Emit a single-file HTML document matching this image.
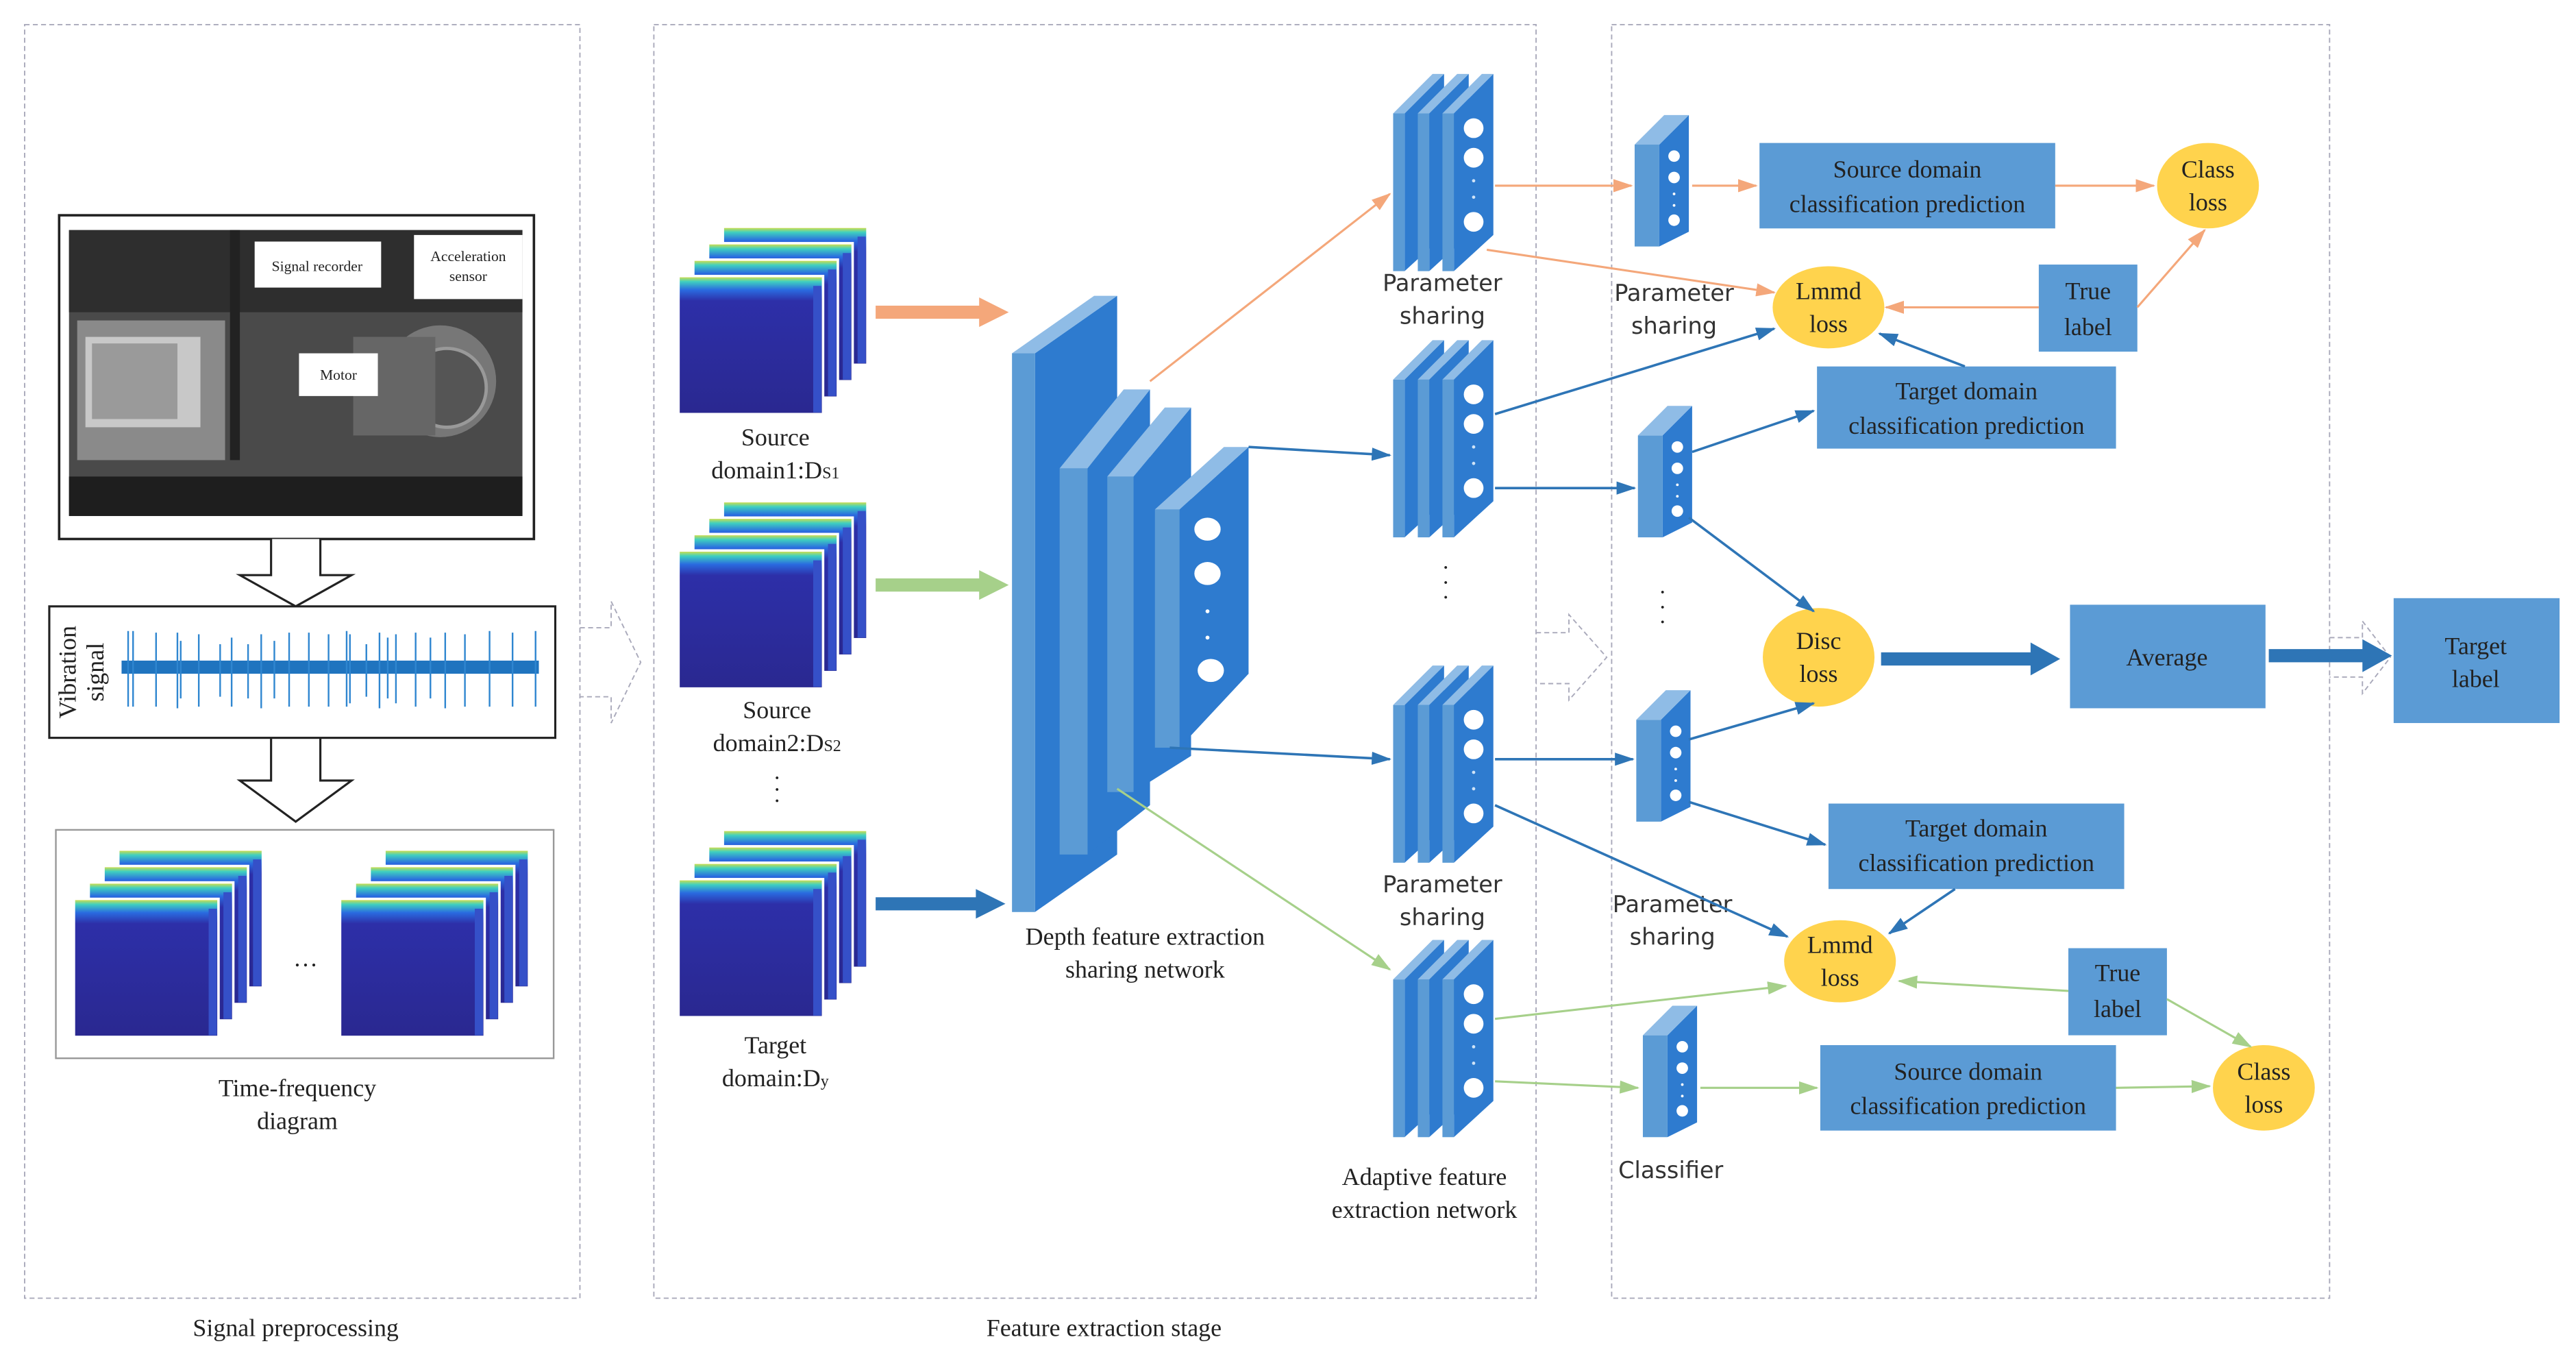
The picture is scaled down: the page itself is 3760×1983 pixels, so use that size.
<!DOCTYPE html>
<html><head><meta charset="utf-8"><style>
html,body{margin:0;padding:0;background:#fff;}
svg{display:block;}
.s{font-family:"Liberation Serif",serif;fill:#222;}
.a{font-family:"DejaVu Sans","Liberation Sans",sans-serif;fill:#333;}
</style></head><body>
<svg width="3760" height="1983" viewBox="0 0 1568 827" preserveAspectRatio="none" xmlns="http://www.w3.org/2000/svg">
<defs>
<linearGradient id="sp" x1="0" y1="0" x2="0" y2="1">
<stop offset="0" stop-color="#f2e030"/><stop offset="0.04" stop-color="#3fd0c0"/><stop offset="0.1" stop-color="#2a6be0"/><stop offset="0.18" stop-color="#2d2fa8"/><stop offset="1" stop-color="#2a2890"/>
</linearGradient>
<marker id="mo" markerWidth="12" markerHeight="10" refX="11" refY="5" orient="auto" markerUnits="userSpaceOnUse"><path d="M0,1 L12,5 L0,9 z" fill="#f4a77a"/></marker>
<marker id="mb" markerWidth="12" markerHeight="10" refX="11" refY="5" orient="auto" markerUnits="userSpaceOnUse"><path d="M0,1 L12,5 L0,9 z" fill="#2e75b6"/></marker>
<marker id="mg" markerWidth="12" markerHeight="10" refX="11" refY="5" orient="auto" markerUnits="userSpaceOnUse"><path d="M0,1 L12,5 L0,9 z" fill="#a6d08a"/></marker>
<g id="frame"><rect x="0" y="0" width="88" height="84" fill="url(#sp)" stroke="#fff" stroke-width="1.5"/><rect x="82" y="6" width="5" height="77" fill="#3550c8"/></g>
<g id="spec">
<use href="#frame" x="27" y="0"/><use href="#frame" x="18" y="10"/><use href="#frame" x="9" y="20"/><use href="#frame" x="0" y="30"/>
</g>
<g id="slab">
<polygon points="7,24 31,0 31,98 7,120" fill="#2e7bcf"/>
<rect x="0" y="24" width="7" height="96" fill="#5b9bd5"/>
<polygon points="0,24 24,0 31,0 7,24" fill="#8fbce6"/>
</g>
<g id="stack">
<use href="#slab" x="0" y="0"/><use href="#slab" x="15" y="0"/><use href="#slab" x="30" y="0"/>
<circle cx="49" cy="33" r="6" fill="#fff"/><circle cx="49" cy="51" r="6" fill="#fff"/>
<circle cx="49" cy="65" r="1" fill="#cfe3f7"/><circle cx="49" cy="75" r="1" fill="#cfe3f7"/>
<circle cx="49" cy="90" r="6" fill="#fff"/>
</g>
<g id="cls">
<polygon points="15,18 33,0 33,71 15,80" fill="#2e7bcf"/>
<rect x="0" y="18" width="15" height="62" fill="#5b9bd5"/>
<polygon points="0,18 18,0 33,0 15,18" fill="#8fbce6"/>
<circle cx="24" cy="25" r="3.5" fill="#fff"/><circle cx="24" cy="38" r="3.5" fill="#fff"/>
<circle cx="24" cy="48" r="0.8" fill="#fff"/><circle cx="24" cy="55" r="0.8" fill="#fff"/>
<circle cx="24" cy="64" r="3.5" fill="#fff"/>
</g>
</defs>

<g fill="none" stroke="#aab" stroke-width="0.8" stroke-dasharray="3,2">
<rect x="15" y="15" width="338" height="775"/>
<rect x="398" y="15" width="537" height="775"/>
<rect x="981" y="15" width="437" height="775"/>
<path d="M353,382 H372 V366 L390,403 L372,440 V424 H353"/>
<path d="M935,385 H955 V374 L978,400 L955,426 V416 H935"/>
<path d="M1418,388 H1438 V378 L1455,400 L1438,422 V412 H1418"/>
</g>
<text class="s" x="180" y="813" font-size="15" text-anchor="middle">Signal preprocessing</text>
<text class="s" x="672" y="813" font-size="15" text-anchor="middle">Feature extraction stage</text>

<rect x="36" y="131" width="289" height="197" fill="#fff" stroke="#222" stroke-width="1.5"/>
<rect x="42" y="140" width="276" height="174" fill="#4a4a4a"/>
<rect x="42" y="140" width="276" height="50" fill="#2e2e2e"/>
<rect x="47" y="195" width="90" height="85" fill="#8a8a8a"/>
<rect x="52" y="205" width="70" height="55" fill="#c8c8c8"/>
<rect x="56" y="209" width="52" height="46" fill="#9a9a9a"/>
<rect x="42" y="290" width="276" height="24" fill="#1e1e1e"/>
<rect x="140" y="140" width="6" height="140" fill="#222"/>
<circle cx="268" cy="232" r="34" fill="#777"/><circle cx="272" cy="236" r="24" fill="#555" stroke="#999" stroke-width="2"/>
<rect x="215" y="205" width="50" height="60" fill="#666"/>
<rect x="155" y="147" width="77" height="28" fill="#fff"/>
<text class="s" x="193" y="165" font-size="9" text-anchor="middle">Signal recorder</text>
<rect x="252" y="143" width="66" height="39" fill="#fff"/>
<text class="s" x="285" y="159" font-size="9" text-anchor="middle">Acceleration</text>
<text class="s" x="285" y="171" font-size="9" text-anchor="middle">sensor</text>
<rect x="182" y="215" width="48" height="26" fill="#fff"/>
<text class="s" x="206" y="231" font-size="9" text-anchor="middle">Motor</text>

<g fill="#fff" stroke="#222" stroke-width="1.3">
<path d="M165,328 V350 H146 L180,369 L214,350 H195 V328"/>
<path d="M165,449 V475 H146 L180,500 L214,475 H195 V449"/>
</g>

<rect x="30" y="369" width="308" height="80" fill="#fff" stroke="#222" stroke-width="1.3"/>
<text class="s" font-size="15" transform="translate(46,409) rotate(-90)" text-anchor="middle">Vibration</text>
<text class="s" font-size="15" transform="translate(63,409) rotate(-90)" text-anchor="middle">signal</text>
<rect x="74" y="402" width="254" height="8" fill="#1f74bf"/>
<g stroke="#2f86d0" stroke-width="1">
<path d="M78,384V430 M81,384V430 M95,385V430 M108,385V431 M110,390V425 M121,386V430 M134,392V424 M141,388V430 M151,392V425 M159,386V431 M167,390V425 M176,385V430 M188,385V430 M200,386V430 M211,384V430 M213,386V428 M223,392V424 M231,385V431 M236,388V425 M241,386V428 M253,385V430 M262,388V425 M271,385V431 M283,386V430 M298,384V430 M312,385V430 M326,384V430"/>
</g>

<rect x="34" y="505" width="303" height="139" fill="#fff" stroke="#999" stroke-width="1"/>
<use href="#spec" transform="translate(45,517)"/>
<use href="#spec" transform="translate(207,517)"/>
<text class="s" x="186" y="588" font-size="15" text-anchor="middle">…</text>
<text class="s" x="181" y="667" font-size="15" text-anchor="middle">Time-frequency</text>
<text class="s" x="181" y="687" font-size="15" text-anchor="middle">diagram</text>

<use href="#spec" transform="translate(413,138)"/>
<text class="s" x="472" y="271" font-size="15" text-anchor="middle">Source</text>
<text class="s" x="472" y="291" font-size="15" text-anchor="middle">domain1:D<tspan font-size="10">S1</tspan></text>
<use href="#spec" transform="translate(413,305)"/>
<text class="s" x="473" y="437" font-size="15" text-anchor="middle">Source</text>
<text class="s" x="473" y="457" font-size="15" text-anchor="middle">domain2:D<tspan font-size="10">S2</tspan></text>
<text class="s" x="473" y="478" font-size="14" text-anchor="middle">·</text>
<text class="s" x="473" y="485" font-size="14" text-anchor="middle">·</text>
<text class="s" x="473" y="492" font-size="14" text-anchor="middle">·</text>
<use href="#spec" transform="translate(413,505)"/>
<text class="s" x="472" y="641" font-size="15" text-anchor="middle">Target</text>
<text class="s" x="472" y="661" font-size="15" text-anchor="middle">domain:D<tspan font-size="10">y</tspan></text>

<path d="M533,186 H596 V181 L614,190 L596,199 V194 H533z" fill="#f4a77a"/>
<path d="M533,352 H596 V347 L614,356 L596,365 V360 H533z" fill="#a6d08a"/>
<path d="M533,546 H594 V541 L612,550 L594,559 V554 H533z" fill="#2e75b6"/>

<polygon points="630,215 680,180 680,520 630,555" fill="#2e7bcf"/>
<rect x="616" y="215" width="14" height="340" fill="#5b9bd5"/>
<polygon points="616,215 666,180 680,180 630,215" fill="#8fbce6"/>
<polygon points="662,285 700,237 700,490 662,520" fill="#2e7bcf"/>
<rect x="645" y="285" width="17" height="235" fill="#5b9bd5"/>
<polygon points="645,285 684,237 700,237 662,285" fill="#8fbce6"/>
<polygon points="690,290 725,248 725,460 690,482" fill="#2e7bcf"/>
<rect x="674" y="290" width="16" height="192" fill="#5b9bd5"/>
<polygon points="674,290 709,248 725,248 690,290" fill="#8fbce6"/>
<polygon points="718,310 760,272 760,410 718,455" fill="#2e7bcf"/>
<rect x="703" y="310" width="15" height="145" fill="#5b9bd5"/>
<polygon points="703,310 745,272 760,272 718,310" fill="#8fbce6"/>
<ellipse cx="735" cy="322" rx="8" ry="7" fill="#fff"/><ellipse cx="735" cy="349" rx="8" ry="7" fill="#fff"/>
<circle cx="735" cy="372" r="1.2" fill="#fff"/><circle cx="735" cy="388" r="1.2" fill="#fff"/>
<ellipse cx="737" cy="408" rx="8" ry="7" fill="#fff"/>
<text class="s" x="697" y="575" font-size="15" text-anchor="middle">Depth feature extraction</text>
<text class="s" x="697" y="595" font-size="15" text-anchor="middle">sharing network</text>

<use href="#stack" x="848" y="45"/>
<use href="#stack" x="848" y="207"/>
<use href="#stack" x="848" y="405"/>
<use href="#stack" x="848" y="572"/>
<text class="a" x="878" y="177" font-size="14" text-anchor="middle">Parameter</text>
<text class="a" x="878" y="197" font-size="14" text-anchor="middle">sharing</text>
<text class="s" x="880" y="350" font-size="14" text-anchor="middle">·</text>
<text class="s" x="880" y="359" font-size="14" text-anchor="middle">·</text>
<text class="s" x="880" y="368" font-size="14" text-anchor="middle">·</text>
<text class="a" x="878" y="543" font-size="14" text-anchor="middle">Parameter</text>
<text class="a" x="878" y="563" font-size="14" text-anchor="middle">sharing</text>
<text class="s" x="867" y="721" font-size="15" text-anchor="middle">Adaptive feature</text>
<text class="s" x="867" y="741" font-size="15" text-anchor="middle">extraction network</text>

<use href="#cls" x="995" y="70"/>
<use href="#cls" x="997" y="247"/>
<use href="#cls" x="996" y="420"/>
<use href="#cls" x="1000" y="612"/>
<text class="a" x="1019" y="183" font-size="14" text-anchor="middle">Parameter</text>
<text class="a" x="1019" y="203" font-size="14" text-anchor="middle">sharing</text>
<text class="s" x="1012" y="365" font-size="14" text-anchor="middle">·</text>
<text class="s" x="1012" y="374" font-size="14" text-anchor="middle">·</text>
<text class="s" x="1012" y="383" font-size="14" text-anchor="middle">·</text>
<text class="a" x="1018" y="555" font-size="14" text-anchor="middle">Parameter</text>
<text class="a" x="1018" y="575" font-size="14" text-anchor="middle">sharing</text>
<text class="a" x="1017" y="717" font-size="14" text-anchor="middle">Classifier</text>

<g fill="#5b9bd5">
<rect x="1071" y="87" width="180" height="52"/>
<rect x="1241" y="161" width="60" height="53"/>
<rect x="1106" y="223" width="182" height="50"/>
<rect x="1260" y="368" width="119" height="63"/>
<rect x="1457" y="364" width="101" height="76"/>
<rect x="1113" y="489" width="180" height="52"/>
<rect x="1259" y="577" width="60" height="53"/>
<rect x="1108" y="636" width="180" height="52"/>
</g>
<g fill="#ffd34d">
<ellipse cx="1344" cy="113" rx="31" ry="26"/>
<ellipse cx="1113" cy="187" rx="34" ry="25"/>
<ellipse cx="1107" cy="400" rx="34" ry="30"/>
<ellipse cx="1120" cy="585" rx="34" ry="25"/>
<ellipse cx="1378" cy="662" rx="31" ry="26"/>
</g>
<g class="s" font-size="15" text-anchor="middle">
<text x="1161" y="108">Source domain</text><text x="1161" y="129">classification prediction</text>
<text x="1344" y="108">Class</text><text x="1344" y="128">loss</text>
<text x="1113" y="182">Lmmd</text><text x="1113" y="202">loss</text>
<text x="1271" y="182">True</text><text x="1271" y="204">label</text>
<text x="1197" y="243">Target domain</text><text x="1197" y="264">classification prediction</text>
<text x="1107" y="395">Disc</text><text x="1107" y="415">loss</text>
<text x="1319" y="405">Average</text>
<text x="1507" y="398">Target</text><text x="1507" y="418">label</text>
<text x="1203" y="509">Target domain</text><text x="1203" y="530">classification prediction</text>
<text x="1120" y="580">Lmmd</text><text x="1120" y="600">loss</text>
<text x="1289" y="597">True</text><text x="1289" y="619">label</text>
<text x="1198" y="657">Source domain</text><text x="1198" y="678">classification prediction</text>
<text x="1378" y="657">Class</text><text x="1378" y="677">loss</text>
</g>

<g stroke="#f4a77a" stroke-width="1.3" fill="none" marker-end="url(#mo)">
<path d="M700,232 L846,118"/>
<path d="M910,113 H993"/>
<path d="M1030,113 H1069"/>
<path d="M1251,113 H1311"/>
<path d="M905,152 L1080,178"/>
<path d="M1241,187 H1148"/>
<path d="M1301,187 L1342,140"/>
</g>
<g stroke="#2e75b6" stroke-width="1.5" fill="none" marker-end="url(#mb)">
<path d="M760,272 L846,277"/>
<path d="M910,252 L1080,200"/>
<path d="M910,297 H995"/>
<path d="M1030,275 L1104,250"/>
<path d="M1196,223 L1144,203"/>
<path d="M1028,315 L1104,372"/>
<path d="M712,455 L846,462"/>
<path d="M910,462 H994"/>
<path d="M1028,450 L1104,428"/>
<path d="M1028,488 L1111,514"/>
<path d="M910,490 L1088,570"/>
<path d="M1190,541 L1150,568"/>
</g>
<path d="M1145,397 H1236 V391 L1254,401 L1236,411 V405 H1145z" fill="#2e75b6"/>
<path d="M1381,395 H1438 V389 L1456,399 L1438,409 V403 H1381z" fill="#2e75b6"/>
<g stroke="#a6d08a" stroke-width="1.3" fill="none" marker-end="url(#mg)">
<path d="M680,480 L846,590"/>
<path d="M910,620 L1087,600"/>
<path d="M1259,603 L1156,597"/>
<path d="M1319,608 L1370,637"/>
<path d="M910,658 L997,662"/>
<path d="M1035,662 L1106,662"/>
<path d="M1288,662 L1345,661"/>
</g>
</svg>
</body></html>
